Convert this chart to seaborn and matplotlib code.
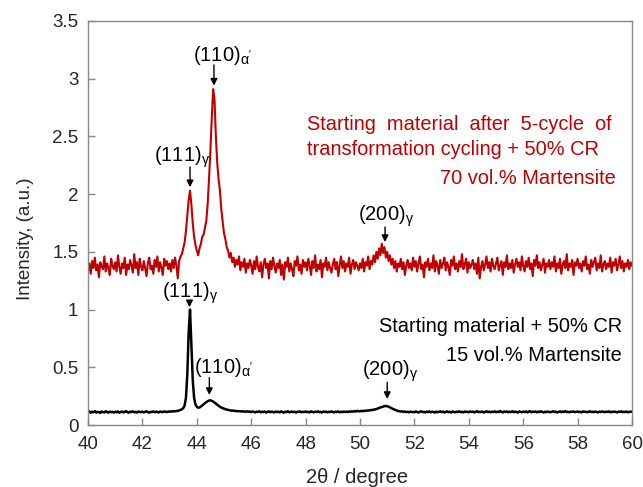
import numpy as np
import pandas as pd
import matplotlib
matplotlib.use("Agg")
import matplotlib.pyplot as plt
import seaborn as sns

# 2-theta sampling, 0.05 deg steps from 40 to 60
two_theta = np.round(40 + 0.05 * np.arange(401), 2)

# cycled sample (5 transformation cycles + 50% CR), one row per degree
red_counts = [
    1.33, 1.40, 1.31, 1.42, 1.36, 1.45, 1.34, 1.39, 1.28, 1.41, 1.37, 1.35, 1.46, 1.33, 1.40, 1.36, 1.30, 1.44, 1.38, 1.35,  # 40
    1.41, 1.33, 1.47, 1.37, 1.31, 1.40, 1.36, 1.45, 1.30, 1.39, 1.35, 1.43, 1.38, 1.32, 1.48, 1.36, 1.41, 1.30, 1.44, 1.37,  # 41
    1.34, 1.42, 1.36, 1.29, 1.40, 1.45, 1.35, 1.38, 1.31, 1.43, 1.37, 1.46, 1.33, 1.41, 1.36, 1.30, 1.44, 1.38, 1.42, 1.35,  # 42
    1.40, 1.33, 1.43, 1.36, 1.45, 1.38, 1.27, 1.42, 1.46, 1.48, 1.53, 1.58, 1.68, 1.81, 1.95, 2.03, 1.91, 1.75, 1.63, 1.56,  # 43
    1.51, 1.47, 1.53, 1.57, 1.63, 1.65, 1.71, 1.77, 1.92, 2.14, 2.38, 2.66, 2.91, 2.82, 2.50, 2.27, 2.13, 2.03, 1.87, 1.76,  # 44
    1.66, 1.61, 1.54, 1.51, 1.45, 1.49, 1.41, 1.45, 1.37, 1.43, 1.39, 1.46, 1.34, 1.41, 1.37, 1.44, 1.32, 1.40, 1.36, 1.43,  # 45
    1.38, 1.31, 1.42, 1.35, 1.46, 1.37, 1.33, 1.41, 1.28, 1.39, 1.44, 1.36, 1.40, 1.27, 1.42, 1.35, 1.45, 1.38, 1.32, 1.40,  # 46
    1.36, 1.43, 1.30, 1.39, 1.26, 1.41, 1.37, 1.45, 1.33, 1.40, 1.35, 1.29, 1.42, 1.38, 1.46, 1.34, 1.39, 1.31, 1.43, 1.37,  # 47
    1.41, 1.34, 1.44, 1.38, 1.30, 1.42, 1.36, 1.47, 1.33, 1.39, 1.35, 1.43, 1.28, 1.40, 1.37, 1.45, 1.34, 1.41, 1.36, 1.32,  # 48
    1.39, 1.44, 1.35, 1.41, 1.29, 1.38, 1.46, 1.36, 1.42, 1.33, 1.40, 1.37, 1.45, 1.31, 1.39, 1.43, 1.35, 1.41, 1.38, 1.34,  # 49
    1.40, 1.36, 1.44, 1.33, 1.41, 1.38, 1.46, 1.35, 1.42, 1.39, 1.47, 1.41, 1.50, 1.44, 1.53, 1.47, 1.57, 1.49, 1.54, 1.45,  # 50
    1.50, 1.42, 1.47, 1.39, 1.44, 1.36, 1.42, 1.33, 1.40, 1.37, 1.44, 1.35, 1.41, 1.30, 1.38, 1.43, 1.36, 1.40, 1.34, 1.45,  # 51
    1.37, 1.42, 1.33, 1.40, 1.46, 1.35, 1.39, 1.28, 1.41, 1.37, 1.44, 1.34, 1.40, 1.36, 1.47, 1.33, 1.42, 1.38, 1.31, 1.43,  # 52
    1.36, 1.40, 1.45, 1.34, 1.41, 1.37, 1.30, 1.43, 1.38, 1.46, 1.35, 1.40, 1.33, 1.42, 1.37, 1.48, 1.35, 1.39, 1.44, 1.32,  # 53
    1.41, 1.36, 1.39, 1.43, 1.35, 1.40, 1.31, 1.45, 1.27, 1.37, 1.42, 1.34, 1.39, 1.46, 1.36, 1.41, 1.33, 1.44, 1.38, 1.35,  # 54
    1.40, 1.45, 1.34, 1.38, 1.42, 1.30, 1.41, 1.37, 1.47, 1.35, 1.40, 1.36, 1.43, 1.32, 1.39, 1.44, 1.37, 1.41, 1.34, 1.46,  # 55
    1.38, 1.33, 1.42, 1.37, 1.45, 1.35, 1.40, 1.29, 1.43, 1.38, 1.47, 1.36, 1.41, 1.34, 1.39, 1.44, 1.32, 1.40, 1.37, 1.43,  # 56
    1.35, 1.41, 1.37, 1.46, 1.33, 1.40, 1.36, 1.44, 1.31, 1.39, 1.42, 1.36, 1.48, 1.34, 1.40, 1.37, 1.43, 1.30, 1.41, 1.38,  # 57
    1.44, 1.36, 1.40, 1.33, 1.42, 1.38, 1.46, 1.35, 1.39, 1.31, 1.43, 1.37, 1.41, 1.45, 1.34, 1.40, 1.36, 1.47, 1.33, 1.39,  # 58
    1.42, 1.35, 1.40, 1.37, 1.45, 1.32, 1.41, 1.38, 1.44, 1.34, 1.39, 1.46, 1.36, 1.42, 1.33, 1.40, 1.37, 1.43, 1.35, 1.41,  # 59
    1.38,
]

# starting material + 50% CR
black_counts = [
    0.112, 0.118, 0.106, 0.115, 0.110, 0.120, 0.108, 0.114, 0.111, 0.105, 0.117, 0.112, 0.109, 0.119, 0.113, 0.107, 0.116, 0.111, 0.114, 0.108,  # 40
    0.115, 0.110, 0.118, 0.106, 0.113, 0.117, 0.109, 0.114, 0.120, 0.111, 0.107, 0.116, 0.112, 0.118, 0.110, 0.114, 0.108, 0.117, 0.113, 0.111,  # 41
    0.116, 0.109, 0.114, 0.119, 0.111, 0.107, 0.115, 0.112, 0.118, 0.110, 0.116, 0.113, 0.109, 0.117, 0.114, 0.111, 0.118, 0.115, 0.112, 0.117,  # 42
    0.114, 0.119, 0.116, 0.121, 0.118, 0.123, 0.121, 0.126, 0.130, 0.136, 0.146, 0.168, 0.235, 0.440, 0.800, 1.000, 0.700, 0.390, 0.235, 0.178,  # 43
    0.158, 0.150, 0.152, 0.160, 0.170, 0.180, 0.190, 0.198, 0.206, 0.212, 0.214, 0.208, 0.203, 0.194, 0.185, 0.176, 0.167, 0.158, 0.151, 0.146,  # 44
    0.141, 0.137, 0.134, 0.131, 0.128, 0.126, 0.124, 0.125, 0.121, 0.122, 0.119, 0.121, 0.117, 0.120, 0.116, 0.118, 0.114, 0.119, 0.115, 0.117,  # 45
    0.112, 0.118, 0.114, 0.109, 0.116, 0.113, 0.119, 0.110, 0.115, 0.112, 0.117, 0.108, 0.114, 0.118, 0.111, 0.116, 0.113, 0.109, 0.117, 0.112,  # 46
    0.115, 0.110, 0.118, 0.113, 0.107, 0.116, 0.112, 0.119, 0.110, 0.114, 0.117, 0.111, 0.115, 0.108, 0.116, 0.113, 0.118, 0.110, 0.114, 0.112,  # 47
    0.117, 0.111, 0.115, 0.109, 0.118, 0.113, 0.110, 0.116, 0.112, 0.119, 0.111, 0.114, 0.108, 0.117, 0.113, 0.116, 0.110, 0.115, 0.112, 0.118,  # 48
    0.113, 0.109, 0.116, 0.112, 0.118, 0.110, 0.115, 0.111, 0.117, 0.113, 0.116, 0.112, 0.118, 0.114, 0.119, 0.115, 0.121, 0.117, 0.122, 0.120,  # 49
    0.118, 0.123, 0.119, 0.124, 0.121, 0.126, 0.124, 0.129, 0.127, 0.132, 0.131, 0.136, 0.138, 0.143, 0.147, 0.152, 0.156, 0.160, 0.163, 0.165,  # 50
    0.163, 0.158, 0.153, 0.146, 0.140, 0.135, 0.129, 0.126, 0.121, 0.120, 0.116, 0.119, 0.113, 0.117, 0.111, 0.115, 0.110, 0.116, 0.112, 0.114,  # 51
    0.110, 0.117, 0.113, 0.108, 0.115, 0.119, 0.111, 0.114, 0.109, 0.116, 0.112, 0.118, 0.110, 0.115, 0.113, 0.107, 0.116, 0.111, 0.114, 0.118,  # 52
    0.112, 0.116, 0.109, 0.114, 0.118, 0.111, 0.115, 0.108, 0.117, 0.113, 0.110, 0.116, 0.112, 0.119, 0.111, 0.114, 0.109, 0.117, 0.113, 0.115,  # 53
    0.110, 0.118, 0.113, 0.116, 0.109, 0.114, 0.120, 0.111, 0.115, 0.112, 0.117, 0.108, 0.114, 0.119, 0.112, 0.116, 0.110, 0.115, 0.113, 0.118,  # 54
    0.111, 0.116, 0.112, 0.121, 0.114, 0.109, 0.117, 0.113, 0.118, 0.110, 0.115, 0.112, 0.119, 0.111, 0.116, 0.113, 0.108, 0.117, 0.114, 0.111,  # 55
    0.116, 0.112, 0.118, 0.109, 0.114, 0.120, 0.111, 0.115, 0.113, 0.117, 0.110, 0.116, 0.112, 0.119, 0.114, 0.108, 0.115, 0.111, 0.117, 0.113,  # 56
    0.110, 0.115, 0.119, 0.112, 0.116, 0.109, 0.114, 0.118, 0.111, 0.117, 0.113, 0.120, 0.112, 0.115, 0.110, 0.116, 0.113, 0.118, 0.111, 0.114,  # 57
    0.117, 0.112, 0.115, 0.109, 0.118, 0.113, 0.116, 0.110, 0.114, 0.119, 0.112, 0.115, 0.111, 0.117, 0.113, 0.109, 0.116, 0.112, 0.118, 0.114,  # 58
    0.111, 0.116, 0.113, 0.118, 0.110, 0.115, 0.112, 0.117, 0.114, 0.109, 0.116, 0.113, 0.119, 0.111, 0.115, 0.112, 0.117, 0.110, 0.114, 0.116,  # 59
    0.113,
]

x_ticks = [40, 42, 44, 46, 48, 50, 52, 54, 56, 58, 60]
y_ticks = [0, 0.5, 1, 1.5, 2, 2.5, 3, 3.5]
y_tick_labels = ["0", "0.5", "1", "1.5", "2", "2.5", "3", "3.5"]

red_note = ["Starting  material  after  5-cycle  of",
            "transformation cycling + 50% CR",
            "70 vol.% Martensite"]
black_note = ["Starting material + 50% CR", "15 vol.% Martensite"]

RED = "#C00000"

sns.set_theme(style="ticks")
plt.rcParams["font.family"] = ["Liberation Sans", "DejaVu Sans"]
plt.rcParams["mathtext.fontset"] = "custom"
plt.rcParams["mathtext.rm"] = "Liberation Sans"
plt.rcParams["mathtext.it"] = "Liberation Sans"
plt.rcParams["mathtext.bf"] = "Liberation Sans:bold"

df = pd.DataFrame({"two_theta": np.concatenate([two_theta, two_theta]),
                   "intensity": red_counts + black_counts,
                   "sample": ["cycled"] * len(red_counts) + ["cr50"] * len(black_counts)})

fig = plt.figure(figsize=(6.43, 4.87), dpi=100)
ax = fig.add_axes([0.1369, 0.1273, 0.8460, 0.8296])

sns.lineplot(data=df[df["sample"] == "cycled"], x="two_theta", y="intensity",
             color=RED, linewidth=1.5, ax=ax)
sns.lineplot(data=df[df["sample"] == "cr50"], x="two_theta", y="intensity",
             color="black", linewidth=1.8, ax=ax)

ax.set_xlim(40, 60)
ax.set_ylim(0, 3.5)
ax.set_xticks(x_ticks)
ax.set_yticks(y_ticks)
ax.set_yticklabels(y_tick_labels)
ax.tick_params(direction="in", length=5, width=1, color="#888888",
               labelsize=13.5, labelcolor="#262626")
ax.tick_params(axis="x", pad=8)
ax.tick_params(axis="y", pad=7)
for sp in ax.spines.values():
    sp.set_color("#888888")
    sp.set_linewidth(1)

ax.set_xlabel("2θ / degree", fontsize=14.5, color="#262626")
ax.set_ylabel("Intensity, (a.u.)", fontsize=13.5, color="#262626")
ax.xaxis.set_label_coords(0.495, -0.106)
ax.yaxis.set_label_coords(-0.10, 0.462)

# peak labels and arrows
peaks = [
    (r"(110)$_{\alpha'}$", 43.86, 3.15, 44.63, 3.12, 2.94),
    (r"(111)$_{\gamma}$", 42.43, 2.28, 43.75, 2.235, 2.06),
    (r"(200)$_{\gamma}$", 49.93, 1.77, 50.92, 1.715, 1.585),
    (r"(111)$_{\gamma}$", 42.72, 1.10, 43.73, 1.075, 1.02),
    (r"(110)$_{\alpha'}$", 43.90, 0.45, 44.46, 0.41, 0.26),
    (r"(200)$_{\gamma}$", 50.06, 0.425, 51.0, 0.37, 0.225),
]
for label, tx, ty, ax_x, tail, tip in peaks:
    ax.text(tx, ty, label, fontsize=14.5, color="black", ha="left", va="baseline")
    ax.annotate("", xy=(ax_x, tip), xytext=(ax_x, tail),
                arrowprops=dict(arrowstyle="-|>", color="black", lw=1,
                                mutation_scale=10, shrinkA=0, shrinkB=0))

ax.text(48.05, 2.556, red_note[0], color=RED, fontsize=14.4, ha="left", va="baseline")
ax.text(48.05, 2.34, red_note[1], color=RED, fontsize=14.4, ha="left", va="baseline")
ax.text(59.41, 2.088, red_note[2], color=RED, fontsize=14.4, ha="right", va="baseline")
ax.text(59.63, 0.808, black_note[0], color="black", fontsize=14.4, ha="right", va="baseline")
ax.text(59.63, 0.557, black_note[1], color="black", fontsize=14.4, ha="right", va="baseline")

fig.savefig("out.png", dpi=100)
